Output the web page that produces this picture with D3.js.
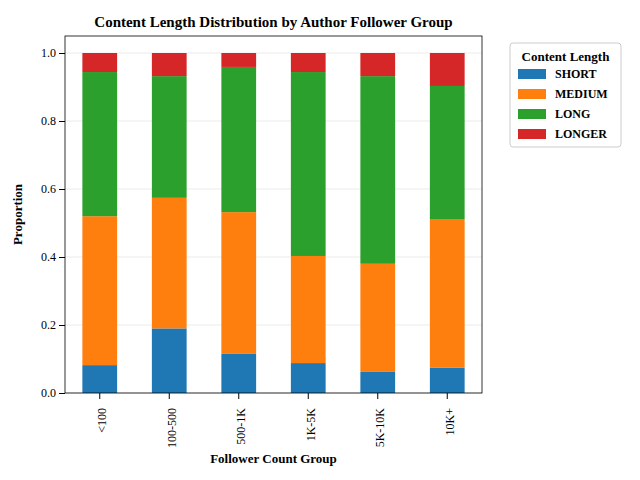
<!DOCTYPE html>
<html><head><meta charset="utf-8">
<script src="https://cdn.jsdelivr.net/npm/d3@7"></script>
<style>body{margin:0;background:#fff}text{font-family:"Liberation Serif",serif}</style>
</head><body><svg id="c" width="640" height="480"></svg>
<script>
const groups = ["<100", "100-500", "500-1K", "1K-5K", "5K-10K", "10K+"];
const seriesNames = ["SHORT", "MEDIUM", "LONG", "LONGER"];
const colors = ["#1f77b4", "#ff7f0e", "#2ca02c", "#d62728"];
const shortVals = [0.082, 0.190, 0.115, 0.088, 0.062, 0.074];
const mediumVals = [0.438, 0.384, 0.417, 0.315, 0.318, 0.436];
const longVals = [0.424, 0.358, 0.427, 0.541, 0.552, 0.393];
const longerVals = [0.056, 0.068, 0.041, 0.056, 0.068, 0.097];
const yTicks = [0, 0.2, 0.4, 0.6, 0.8, 1.0];

const data = groups.map((g, i) => ({group: g, SHORT: shortVals[i], MEDIUM: mediumVals[i], LONG: longVals[i], LONGER: longerVals[i]}));
const svg = d3.select("#c");
const L = 65, R = 482, T = 36, B = 393;
const x = d3.scaleBand().domain(groups).range([L, R]).paddingInner(0.5).paddingOuter(0.25);
const y = d3.scaleLinear().domain([0, 1.05]).range([B, T]);

svg.append("g").selectAll("line").data(yTicks).join("line")
  .attr("x1", L).attr("x2", R).attr("y1", d => y(d)).attr("y2", d => y(d))
  .attr("stroke", "#e6e6e6").attr("stroke-width", 0.8);

const stack = d3.stack().keys(seriesNames)(data);
svg.append("g").selectAll("g").data(stack).join("g")
  .attr("fill", (d, i) => colors[i])
  .selectAll("rect").data(d => d).join("rect")
  .attr("x", d => x(d.data.group)).attr("width", x.bandwidth())
  .attr("y", d => y(d[1])).attr("height", d => y(d[0]) - y(d[1]));

svg.append("rect").attr("x", L).attr("y", T).attr("width", R - L).attr("height", B - T)
  .attr("fill", "none").attr("stroke", "#000").attr("stroke-width", 0.8);

const ya = svg.append("g").attr("transform", `translate(${L},0)`)
  .call(d3.axisLeft(y).tickValues(yTicks).tickFormat(d3.format(".1f")).tickSizeOuter(0));
ya.select(".domain").remove();
ya.selectAll("text").attr("font-size", 12).attr("font-family", "Liberation Serif").attr("fill", "#000");

const xa = svg.append("g").attr("transform", `translate(0,${B})`)
  .call(d3.axisBottom(x).tickSizeOuter(0));
xa.select(".domain").remove();
xa.selectAll("text").attr("font-size", 12).attr("font-family", "Liberation Serif").attr("fill", "#000")
  .attr("transform", "rotate(-90)").attr("text-anchor", "end").attr("dx", "-0.5em").attr("dy", "-0.3em").attr("x", 0).attr("y", 0)
  .style("dominant-baseline", "middle");
xa.selectAll(".tick text").attr("y", 0).attr("x", -9).attr("dy", "0.32em");

svg.append("text").attr("x", (L + R) / 2).attr("y", 27).attr("text-anchor", "middle")
  .attr("font-weight", "bold").attr("font-size", 15).text("Content Length Distribution by Author Follower Group");
svg.append("text").attr("x", (L + R) / 2).attr("y", 463).attr("text-anchor", "middle")
  .attr("font-weight", "bold").attr("font-size", 13).text("Follower Count Group");
svg.append("text").attr("transform", `translate(22,${(T + B) / 2}) rotate(-90)`).attr("text-anchor", "middle")
  .attr("font-weight", "bold").attr("font-size", 13).text("Proportion");

const lg = svg.append("g").attr("transform", "translate(510,43)");
lg.append("rect").attr("width", 111).attr("height", 104).attr("rx", 3)
  .attr("fill", "#fff").attr("stroke", "#ccc");
lg.append("text").attr("x", 55.5).attr("y", 18).attr("text-anchor", "middle")
  .attr("font-weight", "bold").attr("font-size", 13).text("Content Length");
seriesNames.forEach((s, i) => {
  lg.append("rect").attr("x", 8).attr("y", 26 + i * 20).attr("width", 28).attr("height", 10).attr("fill", colors[i]);
  lg.append("text").attr("x", 45).attr("y", 35 + i * 20).attr("font-weight", "bold").attr("font-size", 12).text(s);
});
</script></body></html>
